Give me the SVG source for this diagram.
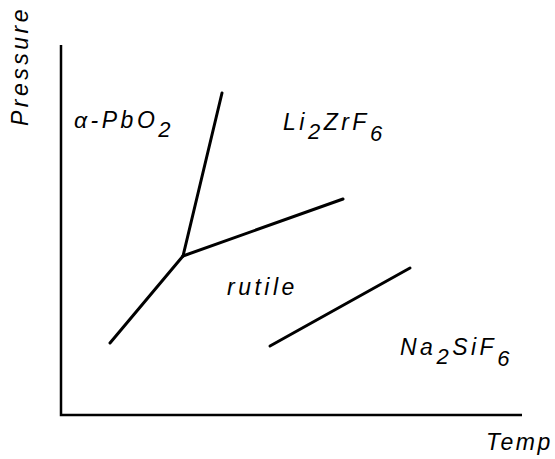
<svg xmlns="http://www.w3.org/2000/svg" width="555" height="459" viewBox="0 0 555 459">
<style>
.ln{stroke:#000;stroke-width:3;fill:none;stroke-linecap:round}
.ax{stroke:#000;stroke-width:2.5;fill:none}
text{font-family:"Liberation Sans",Arial,sans-serif;font-style:italic;font-size:23px;fill:#000;letter-spacing:3.5px}
.sub{font-size:22px}
</style>
<rect width="555" height="459" fill="#fff"/>
<g id="axes">
<path class="ax" d="M61,45 V415 H522"/>
<text id="ylabel" transform="translate(28,126) rotate(-90)">Pressure</text>
<text id="xlabel" x="486" y="450" style="letter-spacing:2.5px">Temp</text>
</g>
<g id="connectors">
<path class="ln" d="M110,343 L183,256"/>
<path class="ln" d="M183,256 L222,93"/>
<path class="ln" d="M183,256 L343,199"/>
<path class="ln" d="M270,346 L410,268"/>
</g>
<g id="alpha-PbO2"><text x="74" y="128">α-PbO<tspan class="sub" dy="9">2</tspan></text></g>
<g id="Li2ZrF6"><text x="283" y="130">Li<tspan class="sub" dy="9">2</tspan><tspan dy="-9">ZrF</tspan><tspan class="sub" dy="11">6</tspan></text></g>
<g id="rutile"><text x="227" y="295">rutile</text></g>
<g id="Na2SiF6"><text x="400" y="355">Na<tspan class="sub" dy="9">2</tspan><tspan dy="-9">SiF</tspan><tspan class="sub" dy="11">6</tspan></text></g>
</svg>
